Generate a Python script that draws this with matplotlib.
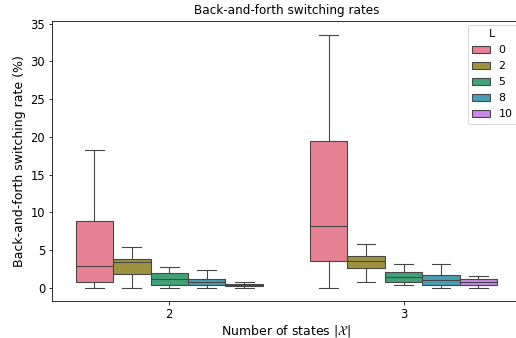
import numpy as np
import matplotlib
matplotlib.use("Agg")
import matplotlib.pyplot as plt
import seaborn as sns
from matplotlib.patches import Patch

# Box statistics per number of states and L (percent)
states = ["2", "3"]
L_values = ["0", "2", "5", "8", "10"]

whislo = [[0.0, 0.0, 0.0, 0.0, 0.0],
          [0.0, 0.8, 0.4, 0.0, 0.0]]
q1 = [[0.8, 1.85, 0.4, 0.35, 0.2],
      [3.6, 2.6, 0.75, 0.4, 0.4]]
med = [[2.9, 3.4, 1.15, 0.75, 0.3],
       [8.15, 3.5, 1.4, 1.0, 0.8]]
q3 = [[8.9, 3.85, 1.9, 1.15, 0.45],
      [19.5, 4.2, 2.05, 1.65, 1.15]]
whishi = [[18.2, 5.4, 2.7, 2.3, 0.8],
          [33.5, 5.8, 3.1, 3.1, 1.6]]

colors = sns.color_palette("husl", len(L_values), desat=0.75)
line_color = "#474747"

fig = plt.figure(figsize=(516 / 72, 338 / 72), dpi=72)
ax = fig.add_axes([0.101, 0.1104, 0.908, 0.8275])

width = 0.8 / len(L_values)
for g in range(len(states)):
    for j in range(len(L_values)):
        pos = g - 0.4 + width * (j + 0.5)
        st = dict(whislo=whislo[g][j], q1=q1[g][j], med=med[g][j],
                  q3=q3[g][j], whishi=whishi[g][j])
        ax.bxp([st], positions=[pos], widths=width, showfliers=False,
               patch_artist=True,
               boxprops=dict(facecolor=colors[j], edgecolor=line_color, linewidth=1.1),
               medianprops=dict(color=line_color, linewidth=1.1),
               whiskerprops=dict(color=line_color, linewidth=1.1),
               capprops=dict(color=line_color, linewidth=1.1),
               capwidths=width / 2)

ax.set_xlim(-0.5, 1.5)
ax.set_xticks(range(len(states)))
ax.set_xticklabels(states)
ax.set_ylim(-1.72, 35.35)
ax.set_yticks(np.arange(0, 36, 5))
ax.tick_params(labelsize=11.5)

ax.set_title("Back-and-forth switching rates", fontsize=12, pad=7)
ax.set_ylabel("Back-and-forth switching rate (%)", fontsize=12.5)
ax.set_xlabel(r"Number of states $|\mathcal{X}|$", fontsize=12.5, labelpad=2)

handles = [Patch(facecolor=c, edgecolor=line_color, linewidth=1.1) for c in colors]
ax.legend(handles, L_values, title="L", loc="upper right", fontsize=11,
          title_fontsize=11, labelspacing=0.55, handlelength=1.6,
          borderaxespad=0.35)

fig.savefig("out.png", dpi=72)
